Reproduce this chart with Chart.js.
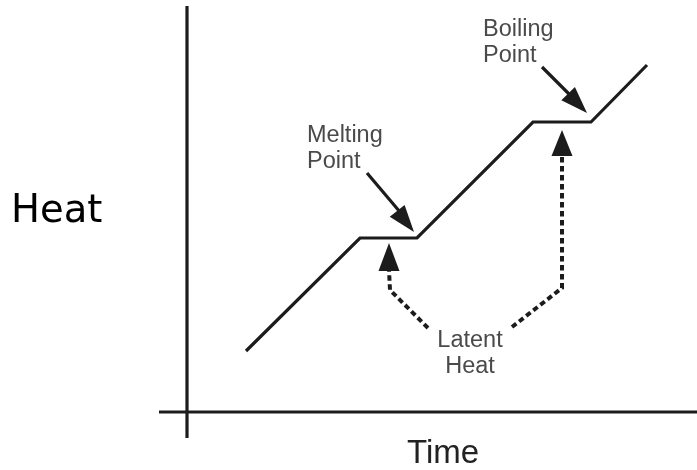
<!DOCTYPE html>
<html>
<head>
<meta charset="utf-8">
<script src="https://cdn.jsdelivr.net/npm/chart.js@4/dist/chart.umd.min.js"></script>
<style>
html,body{margin:0;padding:0;background:#fff;}
canvas{display:block;}
</style>
</head>
<body>
<canvas id="c" width="697" height="470"></canvas>
<script>
// Heating curve (time, heat) in arbitrary units
const curveTime = [5.9, 17.3, 23.0, 34.6, 40.4, 46.0];
const curveHeat = [6.1, 17.4, 17.4, 29.0, 29.0, 34.7];

// Axes
const yAxisTime = [0, 0];
const yAxisHeat = [40.6, -2.6];
const xAxisTime = [-2.8, 51];
const xAxisHeat = [0, 0];

// Solid pointer arrows (shaft points + tip)
const meltArrowTime = [18.0, 21.3];
const meltArrowHeat = [23.9, 20.0];
const meltTip = [22.7, 18.0];
const boilArrowTime = [35.5, 38.3];
const boilArrowHeat = [34.5, 31.7];
const boilTip = [40.0, 29.9];

// Dashed latent-heat arrows
const latentLeftTime = [24.1, 20.3, 20.2];
const latentLeftHeat = [8.4, 12.2, 14.2];
const latentLeftTip = [20.2, 16.9];
const latentRightTime = [32.5, 37.5, 37.5];
const latentRightHeat = [8.5, 12.4, 25.7];
const latentRightTip = [37.5, 28.2];

// Labels
const labelTexts = [["Melting", "Point"], ["Boiling", "Point"], ["Latent", "Heat"]];
const labelAnchors = [[12.0, 27.0], [29.6, 37.6], [28.3, 6.5]];
const labelAlign = ["left", "left", "center"];
const axisTitleX = "Time";
const axisTitleY = "Heat";

const pts = (xs, ys) => xs.map((x, i) => ({x: x, y: ys[i]}));
const INK = '#1c1c1c';

const base = {borderColor: INK, pointRadius: 0, fill: false, tension: 0, borderCapStyle: 'butt', borderJoinStyle: 'miter'};

const arrowPlugin = {
  id: 'arrows',
  afterDatasetsDraw(chart) {
    const ctx = chart.ctx, xs = chart.scales.x, ys = chart.scales.y;
    const heads = [
      [meltArrowTime[0], meltArrowHeat[0], meltTip, 27, 9.5],
      [boilArrowTime[0], boilArrowHeat[0], boilTip, 27, 9.5],
      [latentLeftTime[2], latentLeftHeat[2], latentLeftTip, 28, 10.5],
      [latentRightTime[2], latentRightHeat[2], latentRightTip, 26, 10.5]
    ];
    ctx.save();
    ctx.fillStyle = INK;
    heads.forEach(h => {
      const x0 = xs.getPixelForValue(h[0]), y0 = ys.getPixelForValue(h[1]);
      const x1 = xs.getPixelForValue(h[2][0]), y1 = ys.getPixelForValue(h[2][1]);
      const a = Math.atan2(y1 - y0, x1 - x0);
      const L = h[3], W = h[4];
      const bx = x1 - L * Math.cos(a), by = y1 - L * Math.sin(a);
      ctx.beginPath();
      ctx.moveTo(x1, y1);
      ctx.lineTo(bx + W * Math.sin(a), by - W * Math.cos(a));
      ctx.lineTo(bx - W * Math.sin(a), by + W * Math.cos(a));
      ctx.closePath();
      ctx.fill();
    });
    // labels
    ctx.fillStyle = '#4a4a4a';
    ctx.font = '23.5px "Liberation Sans", Arial, sans-serif';
    ctx.textBaseline = 'alphabetic';
    labelTexts.forEach((lines, i) => {
      const x = xs.getPixelForValue(labelAnchors[i][0]);
      const y = ys.getPixelForValue(labelAnchors[i][1]);
      ctx.textAlign = labelAlign[i];
      lines.forEach((t, j) => ctx.fillText(t, x, y + j * 26));
    });
    // axis titles
    ctx.fillStyle = '#222';
    ctx.textAlign = 'center';
    ctx.font = '33px "Liberation Sans", Arial, sans-serif';
    ctx.fillText(axisTitleX, 443, 463);
    ctx.fillStyle = '#000';
    ctx.textAlign = 'left';
    ctx.font = '38.5px "DejaVu Sans", sans-serif';
    ctx.fillText(axisTitleY, 11, 222);
    ctx.restore();
  }
};

new Chart(document.getElementById('c'), {
  type: 'line',
  data: {
    datasets: [
      Object.assign({}, base, {data: pts(curveTime, curveHeat), borderWidth: 3.2}),
      Object.assign({}, base, {data: pts(yAxisTime, yAxisHeat), borderWidth: 3.2}),
      Object.assign({}, base, {data: pts(xAxisTime, xAxisHeat), borderWidth: 3.2}),
      Object.assign({}, base, {data: pts(meltArrowTime, meltArrowHeat), borderWidth: 3.2}),
      Object.assign({}, base, {data: pts(boilArrowTime, boilArrowHeat), borderWidth: 3.2}),
      Object.assign({}, base, {data: pts(latentLeftTime, latentLeftHeat), borderWidth: 4, borderDash: [5.5, 3.5]}),
      Object.assign({}, base, {data: pts(latentRightTime, latentRightHeat), borderWidth: 4, borderDash: [5.5, 3.5]})
    ]
  },
  options: {
    responsive: false,
    animation: false,
    devicePixelRatio: 1,
    layout: {padding: 0},
    plugins: {legend: {display: false}, tooltip: {enabled: false}},
    scales: {
      x: {type: 'linear', min: -18.7, max: 51, display: false},
      y: {type: 'linear', min: -5.8, max: 41.2, display: false}
    }
  },
  plugins: [arrowPlugin]
});
</script>
</body>
</html>
